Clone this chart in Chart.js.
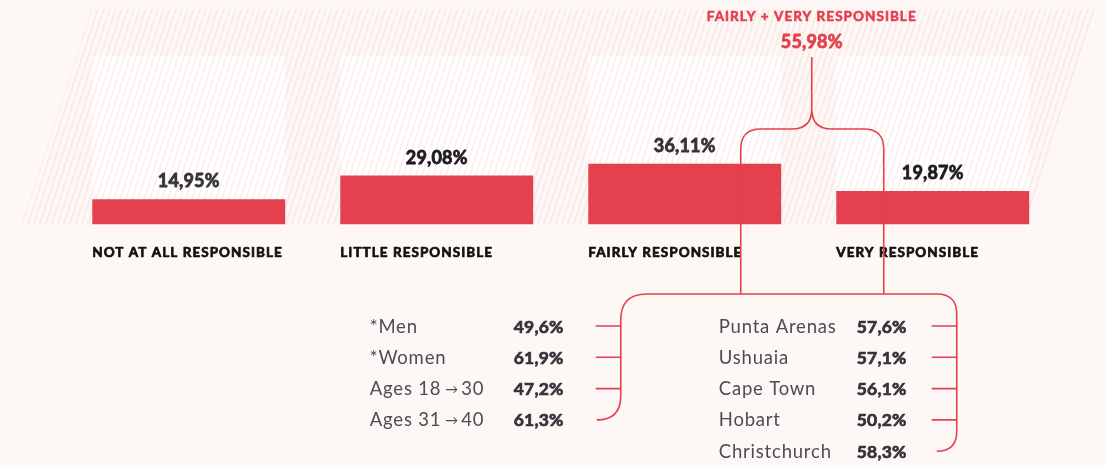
<!DOCTYPE html>
<html>
<head>
<meta charset="utf-8">
<script src="https://cdn.jsdelivr.net/npm/chart.js@4/dist/chart.umd.min.js"></script>
<style>
  html, body { margin: 0; padding: 0; background: #fdf8f6; }
  canvas { display: block; }
</style>
</head>
<body>
<canvas id="chart" width="1106" height="465"></canvas>
<script>
// Share of respondents by how responsible they feel
const categories = ['NOT AT ALL RESPONSIBLE', 'LITTLE RESPONSIBLE', 'FAIRLY RESPONSIBLE', 'VERY RESPONSIBLE'];
const shares = [14.95, 29.08, 36.11, 19.87];
const scaleMax = 100;

// "Fairly" + "very" responsible, broken down by profile and by city
const combinedIdx = [2, 3];
const combinedTitle = 'FAIRLY + VERY RESPONSIBLE';
const profileLabels = ['*Men', '*Women', 'Ages 18 \u2192 30', 'Ages 31 \u2192 40'];
const profileShares = [49.6, 61.9, 47.2, 61.3];
const cityLabels = ['Punta Arenas', 'Ushuaia', 'Cape Town', 'Hobart', 'Christchurch'];
const cityShares = [57.6, 57.1, 56.1, 50.2, 58.3];

const RED = '#e5404e';
const INK = '#34333c';
const GREY = '#4d4c55';
const CREAM = '#fdf8f6';
const CAPS_FONT = 'bold 13.5px Lato';
const CAPS_SPACING = '1.05px';
const NUM_FONT = 'bold 18px Lato';
const LIST_FONT = '400 18.5px Lato';
const LIST_NUM_FONT = 'bold 17.5px Lato';

const pct = (v, d) => v.toFixed(d).replace('.', ',') + '%';
const combined = combinedIdx.reduce((s, i) => s + shares[i], 0);

function setFont(ctx, font, spacing) {
  ctx.font = font;
  ctx.letterSpacing = spacing;
}

// text with a thin outline in its own colour, for a heavier face
function heavyText(ctx, text, x, y, color, weight) {
  ctx.fillStyle = color;
  ctx.strokeStyle = color;
  ctx.lineWidth = weight;
  ctx.lineJoin = 'round';
  ctx.fillText(text, x, y);
  ctx.strokeText(text, x, y);
}

// list label: arrows are set a size smaller with tight gaps
function listLabel(ctx, text, x, y) {
  const parts = text.split(' \u2192 ');
  let cx = x;
  parts.forEach((p, k) => {
    if (k > 0) {
      setFont(ctx, '400 13px Lato', '0px');
      cx += 4;
      ctx.fillText('\u2192', cx, y - 1);
      cx += ctx.measureText('\u2192').width + 3;
    }
    setFont(ctx, LIST_FONT, '0.8px');
    ctx.fillText(p, cx, y);
    cx += ctx.measureText(p).width;
  });
}

const decor = {
  id: 'decor',
  beforeDraw(chart) {
    const ctx = chart.ctx;
    ctx.save();
    ctx.fillStyle = CREAM;
    ctx.fillRect(0, 0, chart.width, chart.height);
    ctx.restore();
  },
  afterDatasetDraw(chart, args) {
    if (args.index !== 0) return;
    // diagonal hatching over the panel band
    const ctx = chart.ctx, a = chart.chartArea;
    const top = 9, bottom = a.bottom, slope = 0.325, h = bottom - top;
    const tl = a.left + 27, tr = a.right + 42;
    ctx.save();
    ctx.beginPath();
    ctx.moveTo(tl, top);
    ctx.lineTo(tr, top);
    ctx.lineTo(tr - slope * h, bottom);
    ctx.lineTo(tl - slope * h, bottom);
    ctx.closePath();
    ctx.clip();
    ctx.strokeStyle = 'rgba(232,110,110,0.13)';
    ctx.lineWidth = 1.4;
    for (let x = tl - slope * h - 12; x < tr + 12; x += 6) {
      ctx.beginPath();
      ctx.moveTo(x, bottom);
      ctx.lineTo(x + slope * h, top);
      ctx.stroke();
    }
    ctx.restore();
  },
  afterDatasetsDraw(chart) {
    const ctx = chart.ctx;
    const bars = chart.getDatasetMeta(1).data;
    ctx.save();
    ctx.textBaseline = 'alphabetic';

    // value labels above bars, category names below
    bars.forEach((b, i) => {
      setFont(ctx, NUM_FONT, '0.2px');
      ctx.textAlign = 'center';
      heavyText(ctx, pct(shares[i], 2), b.x, b.y - 12, i % 2 ? '#1c1b22' : INK, 0.8);
      setFont(ctx, CAPS_FONT, CAPS_SPACING);
      ctx.textAlign = 'left';
      heavyText(ctx, categories[i], b.x - b.width / 2, 257, '#111111', 0.7);
    });

    // brace joining the two combined bars
    const b3 = bars[combinedIdx[0]], b4 = bars[combinedIdx[1]];
    const cx = ((b3.x + b3.width / 2) + (b4.x - b4.width / 2)) / 2 + 3;
    const xl = cx - 71, xr = cx + 72;
    const yKnot = 109, yH = 129, r = 20, yJoin = 294;

    ctx.textAlign = 'center';
    setFont(ctx, CAPS_FONT, CAPS_SPACING);
    heavyText(ctx, combinedTitle, cx, 20.5, RED, 0.6);
    setFont(ctx, NUM_FONT, '0.2px');
    heavyText(ctx, pct(combined, 2), cx, 48, RED, 0.8);

    ctx.strokeStyle = RED;
    ctx.lineWidth = 1.6;
    ctx.lineJoin = 'round';
    ctx.beginPath();
    ctx.moveTo(cx, 57);
    ctx.lineTo(cx, yKnot);
    ctx.quadraticCurveTo(cx, yH, cx - r, yH);
    ctx.lineTo(xl + r, yH);
    ctx.quadraticCurveTo(xl, yH, xl, yH + r);
    ctx.lineTo(xl, yJoin);
    ctx.moveTo(cx, yKnot);
    ctx.quadraticCurveTo(cx, yH, cx + r, yH);
    ctx.lineTo(xr - r, yH);
    ctx.quadraticCurveTo(xr, yH, xr, yH + r);
    ctx.lineTo(xr, yJoin);
    ctx.stroke();

    // lower bracket spreading into the two breakdown lists
    const xL = xl - 120, xR = xr + 73;
    const rowY = i => 326 + i * 31.3;
    const rL = 26, rR = 20, rB = 24;
    ctx.beginPath();
    ctx.moveTo(xL, rowY(profileLabels.length - 1) - rB);
    ctx.lineTo(xL, yJoin + rL);
    ctx.quadraticCurveTo(xL, yJoin, xL + rL, yJoin);
    ctx.lineTo(xR - rR, yJoin);
    ctx.quadraticCurveTo(xR, yJoin, xR, yJoin + rR);
    ctx.lineTo(xR, rowY(cityLabels.length - 1) - rB + 4);
    ctx.stroke();

    // left list: ticks come off the bracket, last row closes it
    const nP = profileLabels.length;
    ctx.beginPath();
    for (let i = 0; i < nP - 1; i++) {
      ctx.moveTo(xL - 25, rowY(i));
      ctx.lineTo(xL, rowY(i));
    }
    ctx.moveTo(xL, rowY(nP - 1) - rB);
    ctx.quadraticCurveTo(xL, rowY(nP - 1), xL - rB, rowY(nP - 1));
    ctx.stroke();

    const nC = cityLabels.length;
    ctx.beginPath();
    for (let i = 0; i < nC - 1; i++) {
      ctx.moveTo(xR - 25, rowY(i));
      ctx.lineTo(xR, rowY(i));
    }
    ctx.moveTo(xR, rowY(nC - 1) - rB + 4);
    ctx.quadraticCurveTo(xR, rowY(nC - 1), xR - 20, rowY(nC - 1));
    ctx.stroke();

    ctx.textAlign = 'left';
    profileLabels.forEach((lab, i) => {
      ctx.fillStyle = GREY;
      listLabel(ctx, lab, xL - 251, rowY(i) + 6.5);
      setFont(ctx, LIST_NUM_FONT, '0.2px');
      heavyText(ctx, pct(profileShares[i], 1), xL - 107, rowY(i) + 6.5, INK, 0.7);
    });
    cityLabels.forEach((lab, i) => {
      ctx.fillStyle = GREY;
      listLabel(ctx, lab, xR - 238, rowY(i) + 6.5);
      setFont(ctx, LIST_NUM_FONT, '0.2px');
      heavyText(ctx, pct(cityShares[i], 1), xR - 100, rowY(i) + 6.5, INK, 0.7);
    });

    ctx.restore();
  }
};

new Chart(document.getElementById('chart'), {
  type: 'bar',
  data: {
    labels: categories,
    datasets: [
      {
        label: 'scale',
        data: categories.map(() => scaleMax),
        backgroundColor: '#ffffff',
        grouped: false,
        order: 2
      },
      {
        label: 'share',
        data: shares,
        backgroundColor: RED,
        grouped: false,
        order: 1
      }
    ]
  },
  options: {
    responsive: false,
    devicePixelRatio: 1,
    animation: false,
    events: [],
    categoryPercentage: 0.778,
    barPercentage: 1,
    layout: { padding: { top: 56, bottom: 240.5, left: 64.75, right: 49.25 } },
    scales: {
      x: { display: false },
      y: { display: false, min: 0, max: scaleMax }
    },
    plugins: {
      legend: { display: false },
      tooltip: { enabled: false }
    }
  },
  plugins: [decor]
});
</script>
</body>
</html>
